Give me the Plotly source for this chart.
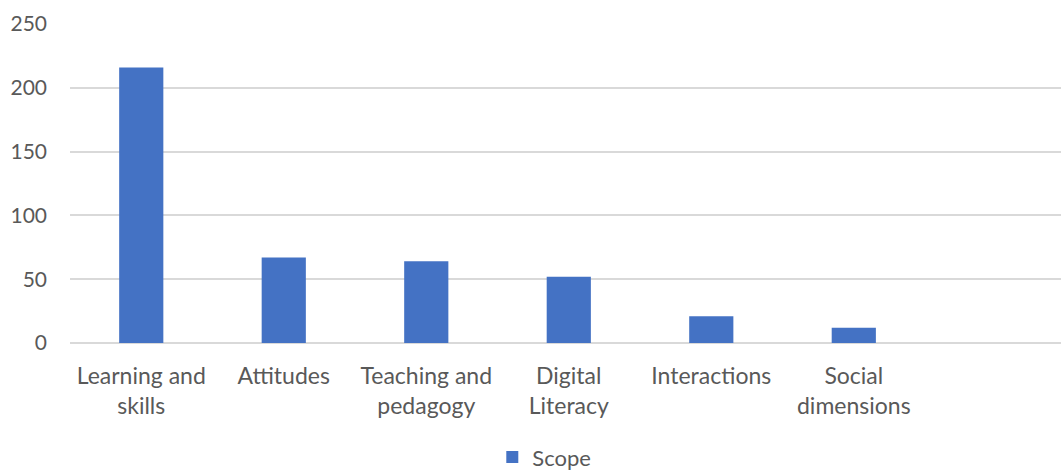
import plotly.graph_objects as go

# Categories and counts for the "Scope" series
categories = ["Learning and<br>skills", "Attitudes", "Teaching and<br>pedagogy",
              "Digital<br>Literacy", "Interactions", "Social<br>dimensions"]
scope_counts = [216, 67, 64, 52, 21, 12]
y_ticks = [0, 50, 100, 150, 200, 250]

BAR_COLOR = "#4472C4"
TEXT_COLOR = "#595959"
GRID_COLOR = "#d9d9d9"
FONT = "Lato, 'Open Sans', sans-serif"

fig = go.Figure(
    go.Bar(
        x=categories,
        y=scope_counts,
        name="Scope",
        marker=dict(color=BAR_COLOR, line=dict(width=0)),
    )
)

fig.update_layout(
    width=1061,
    height=470,
    margin=dict(l=70, r=0, t=24, b=127, autoexpand=False),
    paper_bgcolor="white",
    plot_bgcolor="white",
    bargap=0.69,
    font=dict(family=FONT, size=22, color=TEXT_COLOR),
    showlegend=True,
    legend=dict(
        orientation="h",
        x=0.513, xanchor="center", xref="container",
        y=0.027, yanchor="middle", yref="container",
        font=dict(size=22, color=TEXT_COLOR),
        itemwidth=30,
    ),
)

fig.update_xaxes(
    type="category",
    range=[-0.5, 6.454],
    showgrid=False,
    showline=False,
    ticks="",
    automargin=False,
    ticklabelstandoff=17,
    tickfont=dict(size=23, color=TEXT_COLOR),
)

fig.update_yaxes(
    range=[0, 250],
    tickvals=y_ticks,
    showgrid=True,
    gridcolor=GRID_COLOR,
    gridwidth=1.5,
    zeroline=True,
    zerolinecolor=GRID_COLOR,
    zerolinewidth=1.5,
    showline=False,
    ticks="",
    automargin=False,
    ticklabelstandoff=22,
    tickfont=dict(size=21, color=TEXT_COLOR),
)

fig.write_html("out.html")
